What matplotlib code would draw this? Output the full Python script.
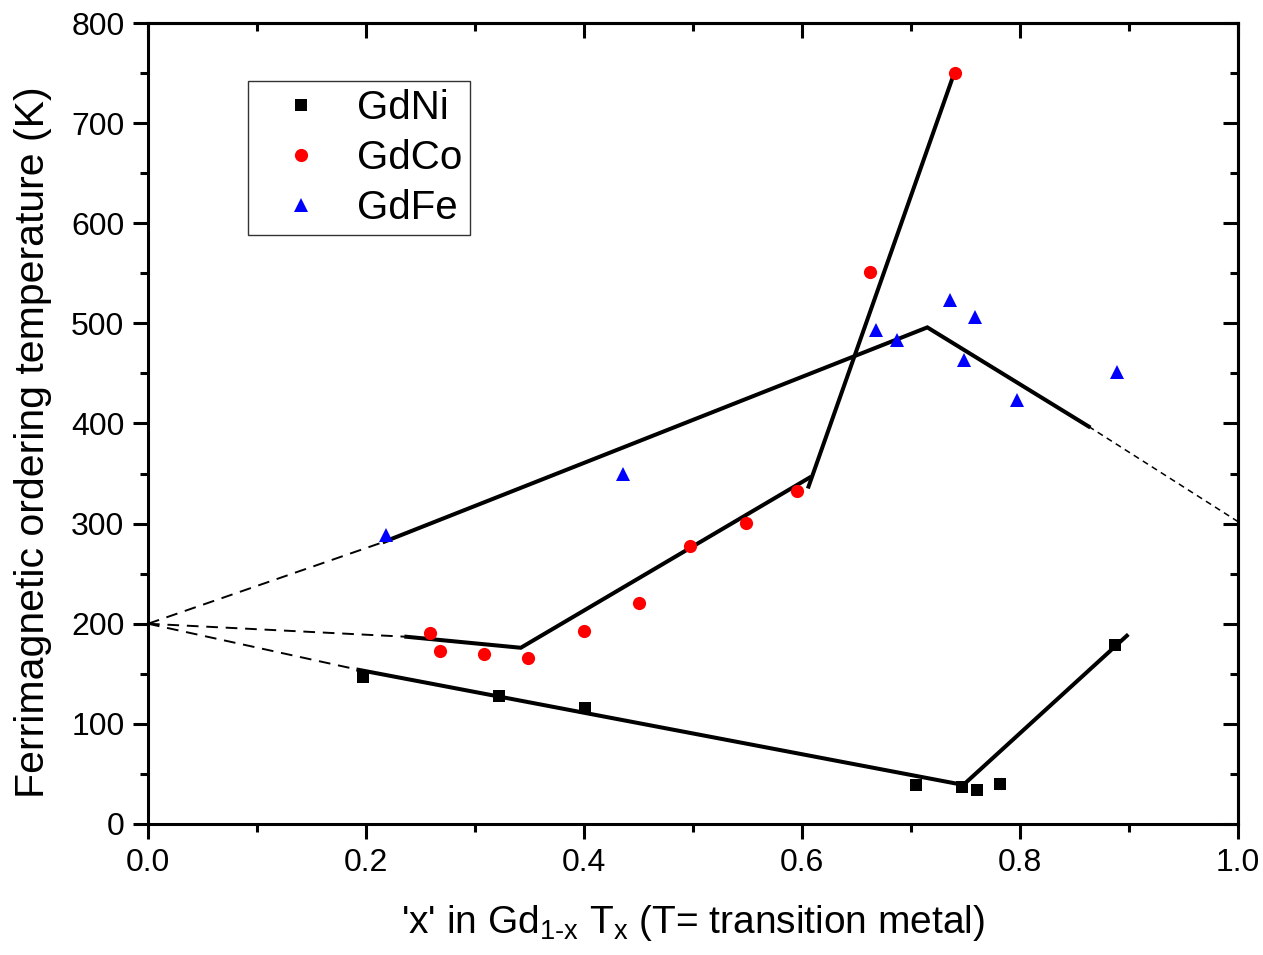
import matplotlib.pyplot as plt
from matplotlib.ticker import MultipleLocator

plt.rcParams['font.family'] = ['Liberation Sans', 'DejaVu Sans']
plt.rcParams['mathtext.fontset'] = 'custom'
plt.rcParams['mathtext.rm'] = 'Liberation Sans'
plt.rcParams['mathtext.it'] = 'Liberation Sans'

# measured points
ni_x = [0.197, 0.322, 0.401, 0.705, 0.747, 0.761, 0.782, 0.887]
ni_t = [147, 128, 116, 39, 37, 34, 40, 179]

co_x = [0.259, 0.268, 0.308, 0.349, 0.400, 0.450, 0.497, 0.549, 0.595, 0.662, 0.740]
co_t = [191, 173, 170, 166, 193, 221, 278, 301, 333, 551, 750]

fe_x = [0.218, 0.436, 0.668, 0.687, 0.736, 0.759, 0.749, 0.797, 0.889]
fe_t = [289, 350, 493, 483, 523, 506, 463, 423, 451]

# guide lines (solid parts)
ni_line_x = [0.193, 0.748, 0.898]
ni_line_t = [154, 39, 188]
co_line_x = [0.237, 0.342, 0.607]
co_line_t = [187, 176, 346]
co_steep_x = [0.606, 0.739]
co_steep_t = [337, 748]
fe_line_x = [0.217, 0.715, 0.863]
fe_line_t = [282, 496, 397]

# extrapolations (dashed)
ni_dash_x = [0.0, 0.193]
ni_dash_t = [200, 154]
co_dash_x = [0.0, 0.237]
co_dash_t = [200, 187]
fe_dash_x = [0.0, 0.217]
fe_dash_t = [200, 282]
fe_dash2_x = [0.863, 1.0]
fe_dash2_t = [397, 302]

fig = plt.figure(figsize=(12.63, 9.55), dpi=100)
ax = fig.add_axes([0.1172, 0.1372, 0.8630, 0.8387])

for dx, dt in [(ni_dash_x, ni_dash_t), (co_dash_x, co_dash_t), (fe_dash_x, fe_dash_t)]:
    ax.plot(dx, dt, color='black', lw=1.4, dashes=(6, 4))
ax.plot(fe_dash2_x, fe_dash2_t, color='black', lw=1.1, dashes=(4, 3))

for lx, lt in [(ni_line_x, ni_line_t), (co_line_x, co_line_t),
               (co_steep_x, co_steep_t), (fe_line_x, fe_line_t)]:
    ax.plot(lx, lt, color='black', lw=2.9, solid_joinstyle='miter')

ax.plot(ni_x, ni_t, 's', color='black', ms=8.5, mew=0, label='GdNi')
ax.plot(co_x, co_t, 'o', color='#ff0000', ms=9.5, mew=0, label='GdCo')
ax.plot(fe_x, fe_t, '^', color='#0000ff', ms=10.5, mew=0, label='GdFe')

ax.set_xlim(0, 1.0)
ax.set_ylim(0, 800)
ax.xaxis.set_major_locator(MultipleLocator(0.2))
ax.xaxis.set_minor_locator(MultipleLocator(0.1))
ax.yaxis.set_major_locator(MultipleLocator(100))
ax.yaxis.set_minor_locator(MultipleLocator(50))
ax.set_xticks([0, 0.2, 0.4, 0.6, 0.8, 1.0])
ax.set_xticklabels(['0.0', '0.2', '0.4', '0.6', '0.8', '1.0'])

for s in ax.spines.values():
    s.set_linewidth(2.2)
ax.tick_params(which='major', direction='out', length=11, width=2.2, labelsize=23, pad=6)
ax.tick_params(which='minor', direction='out', length=6, width=2.2)

# inward ticks on top and right
top = ax.secondary_xaxis('top')
top.xaxis.set_major_locator(MultipleLocator(0.2))
top.xaxis.set_minor_locator(MultipleLocator(0.1))
top.tick_params(which='major', direction='in', length=11, width=2.2, labeltop=False)
top.tick_params(which='minor', direction='in', length=6, width=2.2)
right = ax.secondary_yaxis('right')
right.yaxis.set_major_locator(MultipleLocator(100))
right.yaxis.set_minor_locator(MultipleLocator(50))
right.tick_params(which='major', direction='in', length=11, width=2.2, labelright=False)
right.tick_params(which='minor', direction='in', length=6, width=2.2)
for sec in (top, right):
    for s in sec.spines.values():
        s.set_linewidth(2.2)

ax.set_xlabel("'x' in Gd$_{\\mathregular{1\\text{-}x}}$ T$_{\\mathregular{x}}$ (T= transition metal)",
              fontsize=28, labelpad=18)
ax.set_ylabel('Ferrimagnetic ordering temperature (K)', fontsize=29.5)
ax.yaxis.set_label_coords(-0.088, 0.477)

leg = ax.legend(loc='upper left', bbox_to_anchor=(0.092, 0.928), fontsize=29,
                fancybox=False, edgecolor='#333333', framealpha=1,
                handletextpad=0.3, borderpad=0.2, labelspacing=0.3,
                handlelength=2.2, borderaxespad=0)
leg.get_frame().set_linewidth(1.0)

fig.savefig('out.png', dpi=100)
